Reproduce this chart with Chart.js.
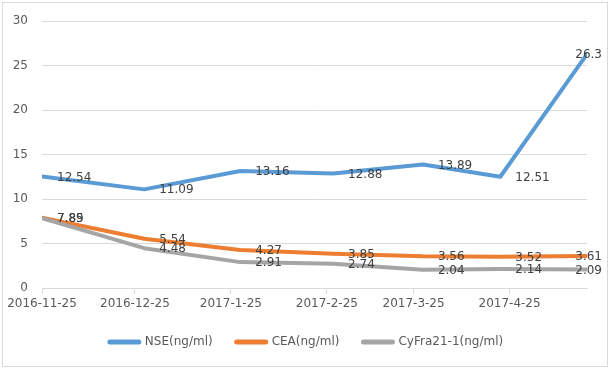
<!DOCTYPE html>
<html>
<head>
<meta charset="utf-8">
<script src="https://cdn.jsdelivr.net/npm/chart.js@4.4.0/dist/chart.umd.min.js"></script>
<style>
  html, body { margin: 0; padding: 0; background: #fff; }
</style>
</head>
<body>
<canvas id="chart" width="611" height="370"></canvas>
<script>
// sample dates
const dates = ["2016-11-25", "2016-12-28", "2017-1-28", "2017-2-27", "2017-3-28", "2017-4-22", "2017-5-20"];
const tickLabels = ["2016-11-25", "2016-12-25", "2017-1-25", "2017-2-25", "2017-3-25", "2017-4-25"];
const nse = [12.54, 11.09, 13.16, 12.88, 13.89, 12.51, 26.3];
const cea = [7.89, 5.54, 4.27, 3.85, 3.56, 3.52, 3.61];
const cyfra = [7.85, 4.48, 2.91, 2.74, 2.04, 2.14, 2.09];
const seriesNames = ["NSE(ng/ml)", "CEA(ng/ml)", "CyFra21-1(ng/ml)"];
const seriesColors = ["#5B9BD5", "#ED7D31", "#A5A5A5"];

// days counted from the first date
function dayNum(s) {
  const p = s.split("-").map(Number);
  return Date.UTC(p[0], p[1] - 1, p[2]) / 86400000;
}
const day0 = dayNum(dates[0]);
const xs = dates.map(d => dayNum(d) - day0);
const tickDays = tickLabels.map(d => dayNum(d) - day0);
const toPoints = vals => vals.map((v, i) => ({ x: xs[i], y: v }));

Chart.defaults.font.family = '"DejaVu Sans", sans-serif';
Chart.defaults.font.size = 12;
Chart.defaults.color = "#595959";

// white background + light frame like the Excel chart area
const frame = {
  id: "frame",
  beforeDraw(chart) {
    const ctx = chart.ctx;
    ctx.save();
    ctx.fillStyle = "#fff";
    ctx.fillRect(0, 0, chart.width, chart.height);
    ctx.strokeStyle = "#D9D9D9";
    ctx.lineWidth = 1;
    ctx.strokeRect(2.5, 2.5, 605, 364);
    ctx.restore();
  }
};

// value labels to the right of each point
const pointLabels = {
  id: "pointLabels",
  afterDatasetsDraw(chart) {
    const ctx = chart.ctx;
    ctx.save();
    ctx.font = '12px "DejaVu Sans"';
    ctx.fillStyle = "#404040";
    ctx.textBaseline = "middle";
    chart.data.datasets.forEach((ds, di) => {
      chart.getDatasetMeta(di).data.forEach((pt, i) => {
        const txt = String(ds.data[i].y);
        const w = ctx.measureText(txt).width;
        let x = pt.x + 15;
        if (x + w > 602) x = 602 - w;
        ctx.fillText(txt, x, pt.y + 1);
      });
    });
    ctx.restore();
  }
};

// legend at the bottom, line samples
const lineLegend = {
  id: "lineLegend",
  afterDraw(chart) {
    const ctx = chart.ctx;
    const lineLen = 33, gap = 4, itemGap = 22, y = 342;
    ctx.save();
    ctx.font = '12px "DejaVu Sans"';
    const widths = seriesNames.map(n => ctx.measureText(n).width);
    const total = widths.reduce((a, w) => a + lineLen + gap + w, 0) + itemGap * (seriesNames.length - 1);
    let x = (chart.width - total) / 2;
    seriesNames.forEach((name, i) => {
      ctx.strokeStyle = seriesColors[i];
      ctx.lineWidth = 5;
      ctx.lineCap = "round";
      ctx.beginPath();
      ctx.moveTo(x + 2, y);
      ctx.lineTo(x + lineLen - 2, y);
      ctx.stroke();
      ctx.fillStyle = "#595959";
      ctx.textBaseline = "middle";
      ctx.fillText(name, x + lineLen + gap, y);
      x += lineLen + gap + widths[i] + itemGap;
    });
    ctx.restore();
  }
};

const lineStyle = (i) => ({
  label: seriesNames[i],
  borderColor: seriesColors[i],
  backgroundColor: seriesColors[i],
  borderWidth: 4,
  pointRadius: 0,
  tension: 0,
  borderCapStyle: "round",
  borderJoinStyle: "round",
  fill: false
});

new Chart(document.getElementById("chart"), {
  type: "line",
  data: {
    datasets: [
      { ...lineStyle(0), data: toPoints(nse), order: 2 },
      { ...lineStyle(1), data: toPoints(cea), order: 1 },
      { ...lineStyle(2), data: toPoints(cyfra), order: 0 }
    ]
  },
  options: {
    responsive: false,
    animation: false,
    layout: { padding: { top: 20, left: 0, right: 24, bottom: 52 } },
    plugins: {
      legend: { display: false },
      tooltip: { enabled: false }
    },
    scales: {
      x: {
        type: "linear",
        min: 0,
        max: xs[xs.length - 1],
        afterBuildTicks: axis => { axis.ticks = tickDays.map(v => ({ value: v })); },
        afterFit: axis => { axis.height = 30; },
        ticks: {
          autoSkip: false,
          maxRotation: 0,
          padding: 3,
          callback: (v, i) => tickLabels[i]
        },
        grid: { drawOnChartArea: false, drawTicks: true, tickLength: 6, color: "#D9D9D9" },
        border: { display: true, color: "#D9D9D9" }
      },
      y: {
        min: 0,
        max: 30,
        afterFit: axis => { axis.width = 42; },
        ticks: { stepSize: 5, padding: 14 },
        grid: { color: "#D9D9D9", drawTicks: false },
        border: { display: false }
      }
    }
  },
  plugins: [frame, pointLabels, lineLegend]
});
</script>
</body>
</html>
